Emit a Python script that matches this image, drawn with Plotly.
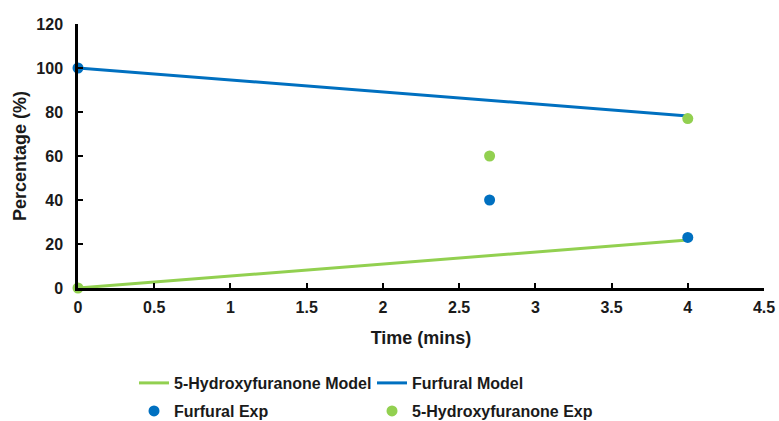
import plotly.graph_objects as go

model_time = [0, 4]
hydroxy_model = [0, 21.8]
furfural_model = [100, 78.2]

exp_time = [0, 2.7, 4]
furfural_exp = [100, 40, 23]
hydroxy_exp = [0, 60, 77]

BLUE = "#0070C0"
GREEN = "#92D050"
FONT = "Liberation Sans, Arial, sans-serif"
TXT = "#1a1a1a"

fig = go.Figure()
fig.add_trace(go.Scatter(x=model_time, y=hydroxy_model, mode="lines", name="5-Hydroxyfuranone Model",
                         line=dict(color=GREEN, width=3), legend="legend"))
fig.add_trace(go.Scatter(x=model_time, y=furfural_model, mode="lines", name="Furfural Model",
                         line=dict(color=BLUE, width=3), legend="legend"))
fig.add_trace(go.Scatter(x=exp_time, y=furfural_exp, mode="markers", name="Furfural Exp",
                         marker=dict(color=BLUE, size=11), cliponaxis=False, legend="legend2"))
fig.add_trace(go.Scatter(x=exp_time, y=hydroxy_exp, mode="markers", name="5-Hydroxyfuranone Exp",
                         marker=dict(color=GREEN, size=11), cliponaxis=False, legend="legend2"))

bold16 = dict(family=FONT, size=16, color=TXT, weight="bold")
title_font = dict(family=FONT, size=18, color=TXT, weight="bold")
axis_common = dict(showline=True, linecolor="black", linewidth=2.5, ticks="inside", ticklen=5,
                   tickwidth=2, tickcolor="black", showgrid=False, zeroline=False,
                   tickfont=bold16, automargin=False)

legend_common = dict(orientation="h", xanchor="left", yanchor="middle",
                     entrywidth=193, entrywidthmode="pixels", font=bold16,
                     bgcolor="rgba(0,0,0,0)")

fig.update_layout(
    width=779, height=421,
    margin=dict(l=78, r=15, t=24, b=133, autoexpand=False),
    paper_bgcolor="white", plot_bgcolor="white",
    font=dict(family=FONT, color=TXT),
    xaxis=dict(range=[0, 4.5], dtick=0.5, tick0=0, tickformat="~g", ticklabelstandoff=3,
               title=dict(text="Time (mins)", font=title_font, standoff=17),
               **axis_common),
    yaxis=dict(range=[0, 120], dtick=20, tick0=0, ticklabelstandoff=9,
               title=dict(text="Percentage (%)", font=title_font, standoff=6),
               **axis_common),
    legend=dict(x=(134 - 78) / 686, y=(288 - 383) / 264, **legend_common),
    legend2=dict(x=(134 - 78) / 686, y=(288 - 411) / 264, **legend_common),
)
fig.write_html("out.html", config={"displayModeBar": False},
               post_script="document.body.style.margin='0';document.body.style.overflow='hidden';")
